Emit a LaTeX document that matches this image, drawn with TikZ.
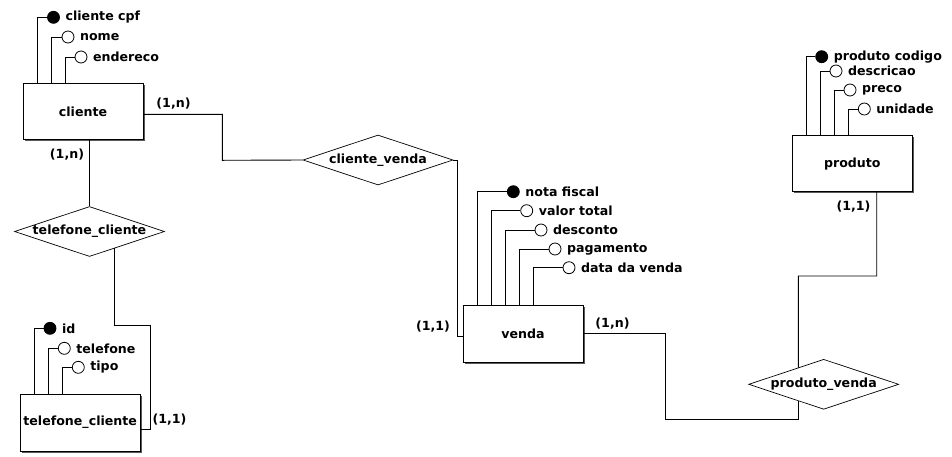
\documentclass[tikz,border=0pt]{standalone}
\usepackage{fontspec}
\setmainfont{DejaVu Sans}
\usetikzlibrary{shapes.geometric,shadows,calc}
\tikzset{
  conn/.style={draw=black, line width=0.9pt},
  entity/.style={draw=black, line width=0.9pt, fill=white, rectangle, minimum width=120pt, minimum height=56pt, inner sep=0pt,
    drop shadow={shadow xshift=1.6pt, shadow yshift=-1.6pt, fill=black!65, opacity=1}},
  rel/.style={draw=black, line width=0.7pt, fill=white, diamond, minimum width=150pt, minimum height=50pt, inner sep=0pt},
  attrc/.style={draw=black, line width=0.8pt, circle, minimum size=12pt, inner sep=0pt},
  attrl/.style={anchor=west, inner sep=0pt},
  card/.style={inner sep=0pt}
}
\newcommand{\erattr}[7]{%
  \node[attrc, fill=#6] (#1) at (#4,#5) {};
  \node[attrl] (#1l) at ([xshift=5.5pt]#1.east) {#7};
  \coordinate (#1x) at (#3,0);
  \draw[conn] (#1.west) -| (#2.north -| #1x);
}
\begin{document}
\begin{tikzpicture}[x=1pt, y=-1pt, font=\fontsize{12.6}{14}\selectfont\bfseries]
\useasboundingbox (0,0) rectangle (952,456);

% entities
\node[entity] (cliente) at (83,111.3) {cliente};
\node[entity, minimum height=57pt] (tcbox) at (80.2,422.6) {telefone\_cliente};
\node[entity, minimum height=57pt] (venda) at (523,334) {venda};
\node[entity] (produto) at (852.3,163.7) {produto};

% relationships
\node[rel] (tcd) at (89.5,231.5) {\makebox[0pt]{telefone\_cliente}};
\node[rel] (cvd) at (378,160) {\makebox[0pt]{cliente\_venda}};
\node[rel] (pvd) at (823.7,384.3) {\makebox[0pt]{produto\_venda}};

% attributes
\erattr{a1}{cliente}{37.3}{53.5}{17.3}{black}{cliente cpf}
\erattr{a2}{cliente}{51.7}{68}{37}{white}{nome}
\erattr{a3}{cliente}{65.3}{81}{57}{white}{endereco}

\erattr{b1}{tcbox}{34.3}{50}{328.3}{black}{id}
\erattr{b2}{tcbox}{48.3}{64.3}{348.3}{white}{telefone}
\erattr{b3}{tcbox}{62.3}{78.3}{367.3}{white}{tipo}

\erattr{c1}{venda}{477.3}{513.3}{191.7}{black}{nota fiscal}
\erattr{c2}{venda}{491}{526.7}{210.7}{white}{valor total}
\erattr{c3}{venda}{505.3}{541}{230}{white}{desconto}
\erattr{c4}{venda}{519.3}{555}{249}{white}{pagamento}
\erattr{c5}{venda}{533.3}{569}{267.7}{white}{data da venda}

\erattr{d1}{produto}{806.7}{821.7}{56.7}{black}{produto codigo}
\erattr{d2}{produto}{820.7}{836}{71}{white}{descricao}
\erattr{d3}{produto}{834}{850}{90}{white}{preco}
\erattr{d4}{produto}{848.3}{864.3}{109}{white}{unidade}

% connectors
\draw[conn] ([yshift=-3pt]cliente.east) -| (222.3,160.3) -- (cvd.west);
\draw[conn] (tcd.north) -- (tcd.north |- cliente.south);
\coordinate (tcdp) at ($(tcd.south)!0.33!(tcd.east)$);
\draw[conn] (tcdp) -- (tcdp |- 0,325) -| (150.3,429) -- ([yshift=-6.4pt]tcbox.east);
\draw[conn] (cvd.east) -- ++(3.7,0) |- ([yshift=-2pt]venda.west);
\coordinate (pvdb) at ($(pvd.west)!0.663!(pvd.south)$);
\coordinate (pvdt) at ($(pvd.west)!0.663!(pvd.north)$);
\draw[conn] ([yshift=0.7pt]venda.east) -| (665.7,419) -| (pvdb);
\draw[conn] ([xshift=24.4pt]produto.south) |- (798.3,276) -- (pvdt);

% cardinalities
\node[card] (k1) at (173.5,104) {(1,n)};
\node[card] (k2) at (67,155) {(1,n)};
\node[card] (k3) at (169.5,420) {(1,1)};
\node[card] (k4) at (433,326.7) {(1,1)};
\node[card] (k5) at (612.5,324) {(1,n)};
\node[card] (k6) at (853.5,206.7) {(1,1)};
\end{tikzpicture}
\end{document}
